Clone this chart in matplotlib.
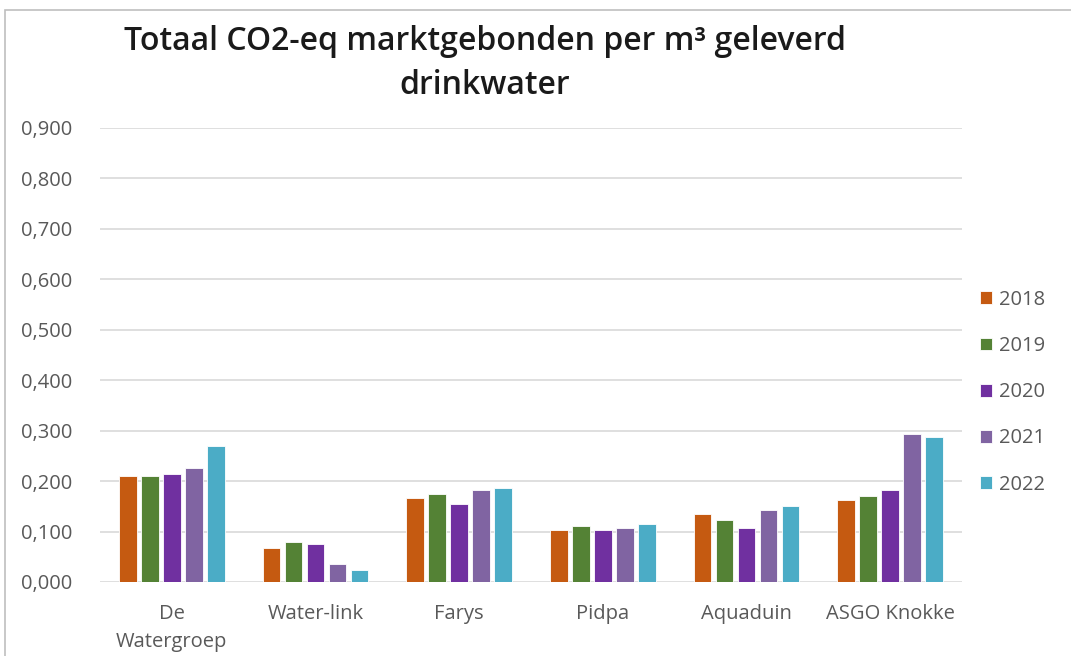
import matplotlib.pyplot as plt
import numpy as np
from matplotlib.patches import Rectangle
from matplotlib.ticker import FuncFormatter

companies = ["De\nWatergroep", "Water-link", "Farys", "Pidpa", "Aquaduin", "ASGO Knokke"]
years = ["2018", "2019", "2020", "2021", "2022"]
colors = ["#C55A11", "#548235", "#7030A0", "#8064A2", "#4BACC6"]

v2018 = [0.210, 0.068, 0.167, 0.104, 0.135, 0.163]
v2019 = [0.210, 0.079, 0.175, 0.111, 0.123, 0.171]
v2020 = [0.215, 0.076, 0.155, 0.104, 0.108, 0.183]
v2021 = [0.226, 0.036, 0.183, 0.108, 0.143, 0.294]
v2022 = [0.270, 0.024, 0.187, 0.115, 0.151, 0.287]
series = [v2018, v2019, v2020, v2021, v2022]

W, H = 1071, 656
fig = plt.figure(figsize=(W / 100, H / 100), dpi=100)
fig.patch.set_facecolor("white")

# chart border
fig.patches.append(Rectangle((5 / W, -0.05), 1.2, (H - 10) / H + 0.05,
                             transform=fig.transFigure, fill=False,
                             edgecolor="#bfbfbf", lw=1.2))

ax = fig.add_axes([100 / W, (H - 582) / H, 862 / W, (582 - 128) / H])
x = np.arange(len(companies))
pitch = 0.153
for i, (vals, c) in enumerate(zip(series, colors)):
    ax.bar(x + (i - 2) * pitch, vals, width=pitch * 0.8, color=c,
           edgecolor="white", linewidth=0.6, label=years[i], zorder=3)

ax.set_xlim(-0.5, len(companies) - 0.5)
ax.set_ylim(0, 0.9)
ax.set_yticks(np.arange(0, 0.91, 0.1))
ax.yaxis.set_major_formatter(FuncFormatter(lambda v, p: f"{v:.3f}".replace(".", ",")))
ax.grid(axis="y", color="#d9d9d9", lw=1.2, zorder=0)
for s in ax.spines.values():
    s.set_visible(False)
ax.tick_params(axis="both", length=0, colors="#595959", labelsize=14.5)
ax.tick_params(axis="y", pad=20)
ax.tick_params(axis="x", pad=16)
ax.set_xticks(x)
ax.set_xticklabels(companies, linespacing=1.5)
for lbl in ax.get_xticklabels() + ax.get_yticklabels():
    lbl.set_family("Open Sans")
    lbl.set_color("#595959")

fig.text(485 / W, 1 - 42 / H, "Totaal CO2-eq marktgebonden per m³ geleverd",
         ha="center", va="center", fontsize=23, fontweight="semibold",
         family="Open Sans", color="#1a1a1a")
fig.text(485 / W, 1 - 86 / H, "drinkwater",
         ha="center", va="center", fontsize=23, fontweight="semibold",
         family="Open Sans", color="#1a1a1a")

leg = ax.legend(loc="center left", bbox_to_anchor=(1.0, 0.418), frameon=False,
                handlelength=0.6, handleheight=0.6, handletextpad=0.35,
                labelspacing=1.3, prop={"family": "Open Sans", "size": 14.5})
for t in leg.get_texts():
    t.set_color("#595959")

fig.savefig("out.png", dpi=100)
